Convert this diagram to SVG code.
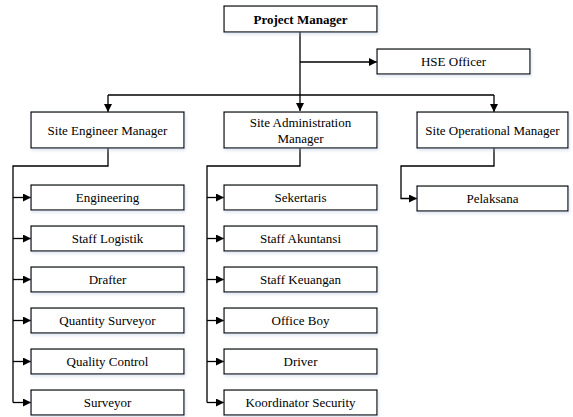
<svg xmlns="http://www.w3.org/2000/svg" width="573" height="417" viewBox="0 0 573 417">
<defs>
<marker id="arr" markerWidth="8" markerHeight="8" refX="8" refY="4" orient="auto" markerUnits="userSpaceOnUse">
<path d="M0,0 L8,4 L0,8 Z" fill="#000"/>
</marker>
<filter id="sh" x="-10%" y="-20%" width="130%" height="160%">
<feDropShadow dx="1" dy="2" stdDeviation="1.5" flood-color="#9fb4d6" flood-opacity="0.35"/>
</filter>
</defs>
<style>
.box{fill:#fff;stroke:#000;stroke-width:1.2;filter:url(#sh)}
.t{font-family:'Liberation Serif','Times New Roman',serif;font-size:13px;fill:#000;text-anchor:middle;dominant-baseline:central}
.b{font-weight:bold}
.c{fill:none;stroke:#000;stroke-width:1.3}
</style>
<rect width="573" height="417" fill="#fff"/>
<g id="connectors">
<path class="c" d="M300,32 V111" marker-end="url(#arr)"/>
<path class="c" d="M300,62 H377" marker-end="url(#arr)"/>
<path class="c" d="M108,95 H494"/>
<path class="c" d="M108,95 V112" marker-end="url(#arr)"/>
<path class="c" d="M494,95 V112" marker-end="url(#arr)"/>
<path class="c" d="M108,148 V166 H13 V402.5"/>
<path class="c" d="M13,197.5 H31" marker-end="url(#arr)"/>
<path class="c" d="M13,238.5 H31" marker-end="url(#arr)"/>
<path class="c" d="M13,279.5 H31" marker-end="url(#arr)"/>
<path class="c" d="M13,320.5 H31" marker-end="url(#arr)"/>
<path class="c" d="M13,361.5 H31" marker-end="url(#arr)"/>
<path class="c" d="M13,402.5 H31" marker-end="url(#arr)"/>
<path class="c" d="M300,148 V166 H207 V402.5"/>
<path class="c" d="M207,197.5 H224" marker-end="url(#arr)"/>
<path class="c" d="M207,238.5 H224" marker-end="url(#arr)"/>
<path class="c" d="M207,279.5 H224" marker-end="url(#arr)"/>
<path class="c" d="M207,320.5 H224" marker-end="url(#arr)"/>
<path class="c" d="M207,361.5 H224" marker-end="url(#arr)"/>
<path class="c" d="M207,402.5 H224" marker-end="url(#arr)"/>
<path class="c" d="M494,148 V166 H401 V198.5 H417" marker-end="url(#arr)"/>
</g>
<g id="pm"><rect class="box" x="224" y="6" width="153" height="26"/><text class="t b" x="300.5" y="19">Project Manager</text></g>
<g id="hse"><rect class="box" x="377" y="49" width="153" height="25"/><text class="t" x="453.5" y="61.5">HSE Officer</text></g>
<g id="sem"><rect class="box" x="31" y="112" width="153" height="36"/><text class="t" x="107.5" y="130">Site Engineer Manager</text></g>
<g id="sam"><rect class="box" x="224" y="112" width="153" height="36"/><text class="t" x="300.5" y="122">Site Administration</text><text class="t" x="300.5" y="138">Manager</text></g>
<g id="som"><rect class="box" x="417" y="112" width="151" height="36"/><text class="t" x="492.5" y="130">Site Operational Manager</text></g>
<g id="pelaksana"><rect class="box" x="417" y="186" width="151" height="25"/><text class="t" x="492.5" y="198.5">Pelaksana</text></g>
<g id="engineering"><rect class="box" x="31" y="185" width="153" height="25"/><text class="t" x="107.5" y="197.5">Engineering</text></g>
<g id="logistik"><rect class="box" x="31" y="226" width="153" height="25"/><text class="t" x="107.5" y="238.5">Staff Logistik</text></g>
<g id="drafter"><rect class="box" x="31" y="267" width="153" height="25"/><text class="t" x="107.5" y="279.5">Drafter</text></g>
<g id="qs"><rect class="box" x="31" y="308" width="153" height="25"/><text class="t" x="107.5" y="320.5">Quantity Surveyor</text></g>
<g id="qc"><rect class="box" x="31" y="349" width="153" height="25"/><text class="t" x="107.5" y="361.5">Quality Control</text></g>
<g id="surveyor"><rect class="box" x="31" y="390" width="153" height="25"/><text class="t" x="107.5" y="402.5">Surveyor</text></g>
<g id="sekertaris"><rect class="box" x="224" y="185" width="153" height="25"/><text class="t" x="300.5" y="197.5">Sekertaris</text></g>
<g id="akuntansi"><rect class="box" x="224" y="226" width="153" height="25"/><text class="t" x="300.5" y="238.5">Staff Akuntansi</text></g>
<g id="keuangan"><rect class="box" x="224" y="267" width="153" height="25"/><text class="t" x="300.5" y="279.5">Staff Keuangan</text></g>
<g id="officeboy"><rect class="box" x="224" y="308" width="153" height="25"/><text class="t" x="300.5" y="320.5">Office Boy</text></g>
<g id="driver"><rect class="box" x="224" y="349" width="153" height="25"/><text class="t" x="300.5" y="361.5">Driver</text></g>
<g id="security"><rect class="box" x="224" y="390" width="153" height="25"/><text class="t" x="300.5" y="402.5">Koordinator Security</text></g>
</svg>
